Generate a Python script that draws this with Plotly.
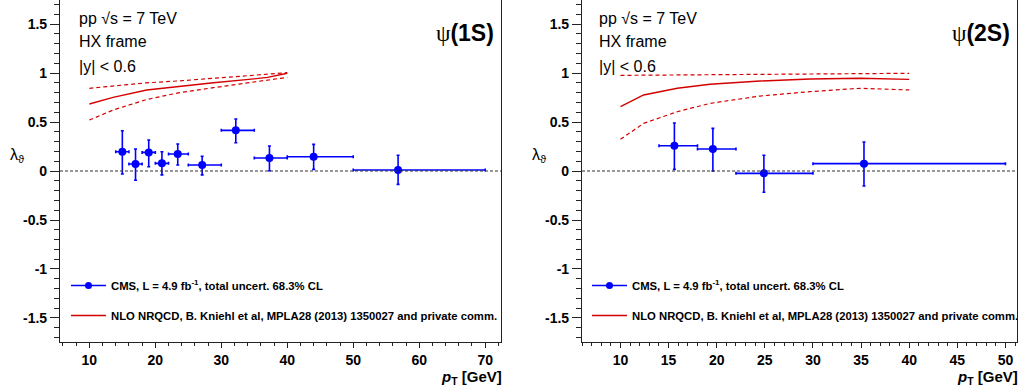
import plotly.graph_objects as go

# ---------------- data: psi(1S) ----------------
pt1 = [15.0, 17.0, 19.0, 21.0, 23.4, 27.1, 32.2, 37.3, 44.0, 56.8]
pt1_lo = [14, 16, 18, 20, 22, 25, 30, 35, 40, 50]
pt1_hi = [16, 18, 20, 22, 25, 30, 35, 40, 50, 70]
lam1 = [0.197, 0.071, 0.19, 0.078, 0.173, 0.061, 0.415, 0.133, 0.146, 0.01]
lam1_up = [0.41, 0.224, 0.316, 0.197, 0.276, 0.15, 0.53, 0.255, 0.272, 0.16]
lam1_dn = [-0.03, -0.095, 0.044, -0.04, 0.061, -0.04, 0.289, 0.003, 0.017, -0.136]

th1_pt = [10, 13.6, 18.7, 23.7, 28.8, 33.8, 37.0, 40]
th1_c = [0.684, 0.752, 0.827, 0.867, 0.901, 0.932, 0.955, 0.997]
th1_hi = [0.844, 0.867, 0.90, 0.92, 0.946, 0.97, 0.985, 1.003]
th1_lo = [0.52, 0.622, 0.73, 0.80, 0.85, 0.895, 0.925, 0.956]

# ---------------- data: psi(2S) ----------------
pt2 = [15.6, 19.6, 24.9, 35.3]
pt2_lo = [14, 18, 22, 30]
pt2_hi = [18, 22, 30, 50]
lam2 = [0.258, 0.224, -0.024, 0.075]
lam2_up = [0.49, 0.435, 0.16, 0.296]
lam2_dn = [0.017, 0.0, -0.217, -0.153]

th2_pt = [10, 12.4, 15.9, 19.3, 24.5, 29.7, 34.9, 40]
th2_c = [0.656, 0.776, 0.844, 0.885, 0.918, 0.939, 0.946, 0.935]
th2_hi = [0.976, 0.978, 0.982, 0.986, 0.99, 0.994, 0.997, 0.997]
th2_lo = [0.323, 0.486, 0.605, 0.69, 0.765, 0.81, 0.844, 0.827]

panel_labels = ["ψ(1S)", "ψ(2S)"]
info_lines = ["pp √s = 7 TeV", "HX frame", "|y| < 0.6"]
legend_cms = "CMS, L = 4.9 fb<sup>-1</sup>, total uncert. 68.3% CL"
legend_th = "NLO NRQCD, B. Kniehl et al, MPLA28 (2013) 1350027 and private comm."

W, H = 1027, 389
FONT = "Liberation Sans, Arial, sans-serif"
BLUE = "#0000ff"
RED = "#d40000"

fig = go.Figure()

def add_panel(xa, ya, pt, lo, hi, lam, up, dn, tpt, tc, thi, tlo, leg):
    ex_p = [h - p for p, h in zip(pt, hi)]
    ex_m = [p - l for p, l in zip(pt, lo)]
    ey_p = [u - v for v, u in zip(lam, up)]
    ey_m = [v - d for v, d in zip(lam, dn)]
    fig.add_trace(go.Scatter(x=tpt, y=thi, mode="lines", xaxis=xa, yaxis=ya,
                             line=dict(color=RED, width=1.2, dash="4px,3px"),
                             showlegend=False, hoverinfo="skip"))
    fig.add_trace(go.Scatter(x=tpt, y=tlo, mode="lines", xaxis=xa, yaxis=ya,
                             line=dict(color=RED, width=1.2, dash="4px,3px"),
                             showlegend=False, hoverinfo="skip"))
    fig.add_trace(go.Scatter(x=tpt, y=tc, mode="lines", xaxis=xa, yaxis=ya,
                             line=dict(color=RED, width=1.4),
                             showlegend=False))
    fig.add_trace(go.Scatter(
        x=pt, y=lam, mode="markers", xaxis=xa, yaxis=ya,
        marker=dict(color=BLUE, size=8, symbol="circle"),
        error_x=dict(type="data", symmetric=False, array=ex_p, arrayminus=ex_m,
                     color=BLUE, thickness=1.6, width=1.5),
        error_y=dict(type="data", symmetric=False, array=ey_p, arrayminus=ey_m,
                     color=BLUE, thickness=1.6, width=1.5),
        showlegend=False))
    # legend entries
    fig.add_trace(go.Scatter(x=[None], y=[None], mode="lines+markers", xaxis=xa, yaxis=ya,
                             line=dict(color=BLUE, width=1.4),
                             marker=dict(color=BLUE, size=7),
                             name=legend_cms, legend=leg, legendgroup=leg + "a"))
    fig.add_trace(go.Scatter(x=[None], y=[None], mode="lines", xaxis=xa, yaxis=ya,
                             line=dict(color=RED, width=1.4),
                             name=legend_th, legend=leg, legendgroup=leg + "b"))

add_panel("x", "y", pt1, pt1_lo, pt1_hi, lam1, lam1_up, lam1_dn,
          th1_pt, th1_c, th1_hi, th1_lo, "legend")
add_panel("x2", "y2", pt2, pt2_lo, pt2_hi, lam2, lam2_up, lam2_dn,
          th2_pt, th2_c, th2_hi, th2_lo, "legend2")

ydom = [1 - 342 / H, 1.0]
x1dom = [60 / W, 501 / W]
x2dom = [582 / W, 1017 / W]

tickfont = dict(family=FONT, size=14, color="black", weight="bold")

def xaxis_cfg(dom, rng, dtick, mdtick, anchor):
    return dict(domain=dom, range=rng, anchor=anchor, showgrid=False, zeroline=False,
                showline=True, linecolor="#222", linewidth=1.2,
                ticks="outside", ticklen=5, tickwidth=1, tickcolor="#222",
                tick0=0, dtick=dtick, tickfont=tickfont,
                minor=dict(ticks="outside", ticklen=3, dtick=mdtick, tick0=0,
                           tickcolor="#222", showgrid=False))

def yaxis_cfg(anchor):
    return dict(domain=ydom, range=[-1.745, 1.745], anchor=anchor, showgrid=False,
                zeroline=False, showline=True, mirror=True, linecolor="#222",
                linewidth=1.2, ticks="outside", ticklen=9, tickwidth=1,
                tickcolor="#222", tickfont=tickfont,
                tickvals=[-1.5, -1, -0.5, 0, 0.5, 1, 1.5],
                ticktext=["-1.5", "-1", "-0.5", "0", "0.5", "1", "1.5"],
                minor=dict(ticks="outside", ticklen=5, dtick=0.1, tick0=0,
                           tickcolor="#222", showgrid=False))

annotations = []
for dom, lab, lx in [(x1dom, panel_labels[0], 77), (x2dom, panel_labels[1], 597)]:
    for i, t in enumerate(info_lines):
        annotations.append(dict(text=t, x=lx / W, y=1 - (18 + 24 * i) / H, xref="paper",
                                yref="paper", xanchor="left", yanchor="middle",
                                showarrow=False, font=dict(family=FONT, size=16, color="black")))
    annotations.append(dict(
        text="<span style='font-family:Liberation Serif'>ψ</span><b>" + lab[1:] + "</b>",
        x=(dom[1] * W - 5) / W, y=1 - 33 / H, xref="paper", yref="paper",
        xanchor="right", yanchor="middle", showarrow=False,
        font=dict(family=FONT, size=23, color="black")))
    annotations.append(dict(
        text="<b><i>p</i><sub>T</sub> [GeV]</b>",
        x=(dom[1] * W + 3) / W, y=1 - 377 / H, xref="paper", yref="paper",
        xanchor="right", yanchor="middle", showarrow=False,
        font=dict(family=FONT, size=15, color="black")))
    annotations.append(dict(
        text="λ<sub>ϑ</sub>",
        x=(dom[0] * W - 52) / W, y=1 - 155 / H, xref="paper", yref="paper",
        xanchor="left", yanchor="middle", showarrow=False,
        font=dict(family=FONT, size=16, color="black")))

shapes = []
for xr, yr in [("x domain", "y"), ("x2 domain", "y2")]:
    shapes.append(dict(type="line", xref=xr, yref=yr, x0=0, x1=1, y0=0, y1=0,
                       line=dict(color="#333", width=1.2, dash="3px,2px")))

legfont = dict(family=FONT, size=11.3, color="black", weight="bold")
fig.update_layout(
    width=W, height=H, margin=dict(l=0, r=0, t=0, b=0),
    paper_bgcolor="white", plot_bgcolor="white",
    xaxis=xaxis_cfg(x1dom, [5.55, 72.4], 10, 2, "y"),
    yaxis=yaxis_cfg("x"),
    xaxis2=xaxis_cfg(x2dom, [6.0, 51.2], 5, 1, "y2"),
    yaxis2=yaxis_cfg("x2"),
    annotations=annotations, shapes=shapes,
    legend=dict(x=66 / W, y=1 - 271 / H, xanchor="left", yanchor="top",
                bgcolor="rgba(0,0,0,0)", font=legfont, tracegroupgap=11,
                itemwidth=35),
    legend2=dict(x=587 / W, y=1 - 271 / H, xanchor="left", yanchor="top",
                 bgcolor="rgba(0,0,0,0)", font=legfont, tracegroupgap=11,
                 itemwidth=35),
    showlegend=True,
)

fig.write_html("out.html", config={"displayModeBar": False},
               post_script="document.body.style.margin='0px';")
